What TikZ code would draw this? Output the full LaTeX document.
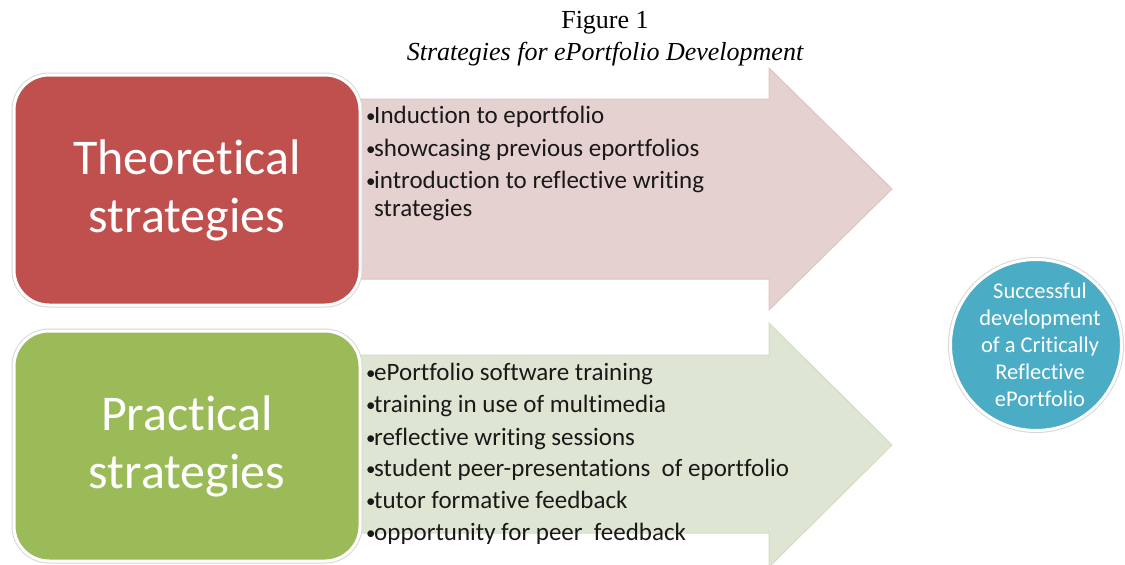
\documentclass[tikz,border=0pt]{standalone}
\usepackage{fontspec}
\setmainfont{Carlito}[Ligatures={NoCommon}]
\newfontfamily\timesf{Liberation Serif}
\definecolor{boxred}{HTML}{C0504D}
\definecolor{boxgreen}{HTML}{9BBB59}
\definecolor{goalblue}{HTML}{4BACC6}
\definecolor{arrowpink}{RGB}{230,209,209}
\definecolor{pinkedge}{RGB}{221,196,196}
\definecolor{arrowgreen}{RGB}{222,230,211}
\definecolor{greenedge}{RGB}{210,221,196}
\definecolor{halo}{RGB}{215,215,215}
\newcommand\bl{\makebox[8pt][l]{\raisebox{1pt}{\fontsize{19}{19}\selectfont•}}}
\tikzset{
  bigbox/.style={rounded corners=35pt, minimum width=346pt, minimum height=230pt,
    inner sep=0pt, align=center, text=white, draw=white, line width=3pt,
    preaction={draw=halo, line width=5pt},
    font=\fontsize{50}{58}\selectfont},
  bul/.style={anchor=base west, inner sep=0pt, text=black!90,
    font=\fontsize{25}{28}\selectfont},
  goal/.style={circle, fill=goalblue, minimum size=171pt, inner sep=0pt,
    draw=white, line width=3pt, preaction={draw=halo, line width=5pt},
    align=center, text=white, font=\fontsize{22.5}{27}\selectfont},
  titletext/.style={anchor=base, inner sep=0pt, font=\timesf\fontsize{26}{30}\selectfont}
}
\begin{document}
\begin{tikzpicture}[x=1pt,y=-1pt]
\useasboundingbox[fill=white] (0,0) rectangle (1125,565);
% title
\node[titletext] (fig) at (605,28) {Figure 1};
\node[titletext] (cap) at (605,60) {\itshape Strategies for ePortfolio Development};
% arrows
\filldraw[fill=arrowpink, draw=pinkedge, line width=1pt]
  (345,99) -- (769,99) -- (769,68) -- (892,189) -- (769,310) -- (769,279) -- (345,279) -- cycle;
\filldraw[fill=arrowgreen, draw=greenedge, line width=1pt]
  (345,355) -- (769,355) -- (769,323) -- (892,445) -- (769,567) -- (769,533) -- (345,533) -- cycle;
% boxes
\node[bigbox, fill=boxred] (theo) at (187,190) {Theoretical\\strategies};
\node[bigbox, fill=boxgreen] (prac) at (187,446) {Practical\\strategies};
% goal circle
\node[goal] (succ) at (1036,345) {};
\node[align=center, text=white, font=\fontsize{22.5}{27}\selectfont, inner sep=0pt]
  (succtext) at ([xshift=4pt]succ.center) {Successful\\development\\of a Critically\\Reflective\\ePortfolio};
% theoretical bullets
\node[bul] (t1) at (366,123) {\bl Induction to eportfolio};
\node[bul] (t2) at (366,156) {\bl showcasing previous eportfolios};
\node[bul] (t3) at (366,188) {\bl introduction to reflective writing};
\node[bul] (t3b) at (374,216) {strategies};
% practical bullets
\node[bul] (p1) at (366,380) {\bl ePortfolio software training};
\node[bul] (p2) at (366,412) {\bl training in use of multimedia};
\node[bul] (p3) at (366,445) {\bl reflective writing sessions};
\node[bul] (p4) at (366,476) {\bl student peer-presentations\ \ of eportfolio};
\node[bul] (p5) at (366,508) {\bl tutor formative feedback};
\node[bul] (p6) at (366,540) {\bl opportunity for peer\ \ feedback};
\end{tikzpicture}
\end{document}
